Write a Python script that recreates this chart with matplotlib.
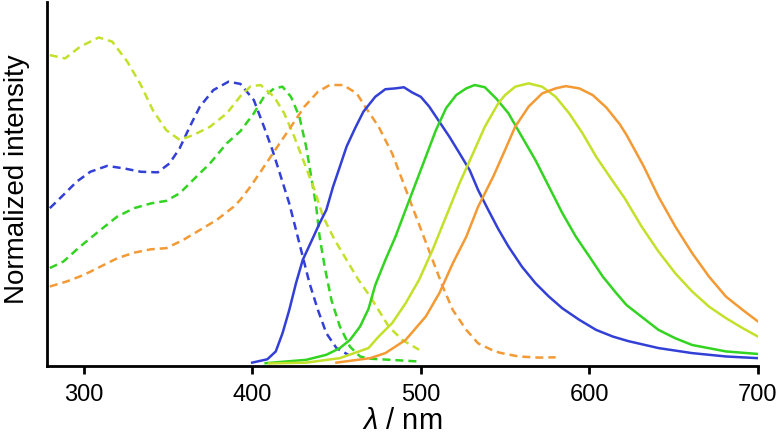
import numpy as np
import matplotlib
matplotlib.use("Agg")
import matplotlib.pyplot as plt

#------------------------------------------#
# Absorption spectra (dashed)
#------------------------------------------#

abs_blue_x = [280, 288, 296, 304, 314, 324, 334, 344, 351, 357, 363, 369, 377, 386, 393,
              401, 407, 412, 417, 422, 426, 430, 434, 439, 444, 450, 457]
abs_blue_y = [0.56, 0.607, 0.655, 0.69, 0.711, 0.702, 0.69, 0.688, 0.72, 0.774, 0.851, 0.923,
              0.982, 1.012, 1.004, 0.946, 0.851, 0.768, 0.673, 0.577, 0.482, 0.387, 0.292,
              0.196, 0.113, 0.06, 0.036]

abs_green_x = [280, 288, 298, 310, 320, 330, 340, 349, 357, 365, 375, 385, 393, 401, 407,
               413, 418, 423, 428, 432, 435, 438, 440, 443, 447, 452, 458, 464, 470, 482, 499]
abs_green_y = [0.346, 0.369, 0.423, 0.482, 0.53, 0.56, 0.577, 0.586, 0.613, 0.661, 0.72,
               0.792, 0.835, 0.899, 0.958, 0.988, 0.994, 0.958, 0.887, 0.78, 0.673, 0.565,
               0.458, 0.351, 0.232, 0.137, 0.065, 0.03, 0.022, 0.018, 0.012]

abs_yellow_x = [280, 289, 298, 309, 317, 326, 334, 341, 349, 357, 365, 375, 385, 393, 399,
                405, 413, 419, 425, 431, 437, 442, 449, 456, 463, 470, 481, 489, 499]
abs_yellow_y = [1.107, 1.095, 1.137, 1.17, 1.155, 1.083, 1.0, 0.911, 0.839, 0.804, 0.821,
                0.851, 0.899, 0.96, 0.995, 1.0, 0.958, 0.899, 0.815, 0.72, 0.625, 0.53, 0.446,
                0.375, 0.304, 0.244, 0.137, 0.089, 0.054]

abs_orange_x = [280, 290, 300, 310, 320, 330, 340, 349, 359, 369, 379, 389, 393, 399, 407,
                415, 423, 431, 439, 446, 454, 462, 467, 475, 483, 489, 495, 501, 507, 513,
                519, 527, 534, 544, 548, 558, 570, 580]
abs_orange_y = [0.28, 0.298, 0.321, 0.351, 0.381, 0.401, 0.413, 0.417, 0.446, 0.482, 0.518,
                0.565, 0.59, 0.637, 0.708, 0.78, 0.851, 0.923, 0.976, 1.0, 1.0, 0.97, 0.923,
                0.851, 0.756, 0.661, 0.565, 0.47, 0.375, 0.28, 0.196, 0.125, 0.077, 0.048,
                0.042, 0.03, 0.026, 0.027]

#------------------------------------------#
# Emission spectra (solid)
#------------------------------------------#

em_blue_x = [400, 409, 414, 418, 422, 426, 430, 435, 440, 444, 448, 452, 456, 461, 466, 473,
             479, 485, 490, 495, 500, 505, 511, 517, 523, 529, 534, 540, 546, 552, 560, 568,
             576, 584, 594, 604, 614, 623, 641, 661, 681, 700]
em_blue_y = [0.008, 0.02, 0.048, 0.113, 0.196, 0.292, 0.375, 0.44, 0.506, 0.554, 0.637,
             0.708, 0.78, 0.845, 0.905, 0.958, 0.985, 0.988, 0.992, 0.973, 0.958, 0.923,
             0.869, 0.815, 0.756, 0.696, 0.625, 0.554, 0.485, 0.423, 0.351, 0.292, 0.244,
             0.202, 0.161, 0.125, 0.101, 0.085, 0.06, 0.042, 0.03, 0.024]

em_green_x = [408, 432, 444, 452, 458, 464, 469, 473, 479, 485, 491, 497, 503, 509, 515, 521,
              527, 532, 538, 545, 552, 560, 568, 576, 584, 592, 600, 608, 616, 622, 632, 641,
              651, 661, 681, 700]
em_green_y = [0.006, 0.018, 0.036, 0.06, 0.089, 0.137, 0.2, 0.285, 0.375, 0.458, 0.554,
              0.649, 0.744, 0.839, 0.917, 0.964, 0.988, 1.0, 0.992, 0.95, 0.899, 0.815, 0.732,
              0.637, 0.542, 0.458, 0.387, 0.315, 0.256, 0.214, 0.167, 0.125, 0.095, 0.071,
              0.048, 0.039]

em_yellow_x = [410, 432, 452, 469, 475, 483, 491, 499, 507, 515, 523, 531, 538, 546, 550,
               556, 564, 572, 580, 588, 596, 604, 612, 621, 631, 641, 651, 661, 671, 681,
               691, 700]
em_yellow_y = [0.005, 0.008, 0.024, 0.06, 0.101, 0.149, 0.22, 0.304, 0.411, 0.53, 0.649,
               0.756, 0.851, 0.935, 0.964, 0.994, 1.006, 0.994, 0.958, 0.899, 0.827, 0.744,
               0.673, 0.595, 0.494, 0.405, 0.327, 0.262, 0.208, 0.167, 0.131, 0.101]

em_orange_x = [450, 470, 479, 491, 503, 511, 519, 527, 534, 543, 550, 556, 564, 572, 580,
               586, 594, 602, 610, 618, 622, 632, 641, 651, 661, 671, 681, 691, 700]
em_orange_y = [0.008, 0.024, 0.042, 0.089, 0.173, 0.256, 0.363, 0.458, 0.565, 0.673, 0.768,
               0.851, 0.923, 0.97, 0.988, 0.996, 0.988, 0.964, 0.92, 0.86, 0.822, 0.712,
               0.601, 0.494, 0.399, 0.315, 0.244, 0.196, 0.155]

blue = '#3340d6'
green = '#33d421'
yellow = '#c4e02a'
orange = '#f39a35'

plt.rcParams['font.family'] = ['Liberation Sans', 'DejaVu Sans']
plt.rcParams['mathtext.fontset'] = 'custom'
plt.rcParams['mathtext.it'] = 'Liberation Sans:italic'
plt.rcParams['mathtext.rm'] = 'Liberation Sans'

fig = plt.figure(figsize=(7.79, 4.37), dpi=100)
ax = fig.add_axes([0.0603, 0.1625, 0.9127, 0.8325])

#------------------------------------------#
# Courbes : absorption en pointilles, emission en trait plein
#------------------------------------------#

dash = (0, (3.2, 2.0))
lw = 1.8
ax.plot(abs_blue_x, abs_blue_y, color=blue, lw=lw, ls=dash)
ax.plot(abs_green_x, abs_green_y, color=green, lw=lw, ls=dash)
ax.plot(abs_yellow_x, abs_yellow_y, color=yellow, lw=lw, ls=dash)
ax.plot(abs_orange_x, abs_orange_y, color=orange, lw=lw, ls=dash)

ax.plot(em_blue_x, em_blue_y, color=blue, lw=lw)
ax.plot(em_green_x, em_green_y, color=green, lw=lw)
ax.plot(em_yellow_x, em_yellow_y, color=yellow, lw=lw)
ax.plot(em_orange_x, em_orange_y, color=orange, lw=lw)

ax.set_xlim(278.3, 700)
ax.set_ylim(-0.004, 1.296)
ax.set_xticks([300, 400, 500, 600, 700])
ax.set_yticks([])
ax.spines['top'].set_visible(False)
ax.spines['right'].set_visible(False)
ax.spines['left'].set_linewidth(2)
ax.spines['bottom'].set_linewidth(2)
ax.tick_params(axis='x', direction='out', length=6, width=2, labelsize=17, pad=7)

ax.set_xlabel('$\\lambda$ / nm', fontsize=21, labelpad=1)
fig.text(4 / 779, 0.589, 'Normalized intensity', fontsize=20, rotation=90,
         ha='left', va='center')

fig.savefig('out.png', dpi=100)
